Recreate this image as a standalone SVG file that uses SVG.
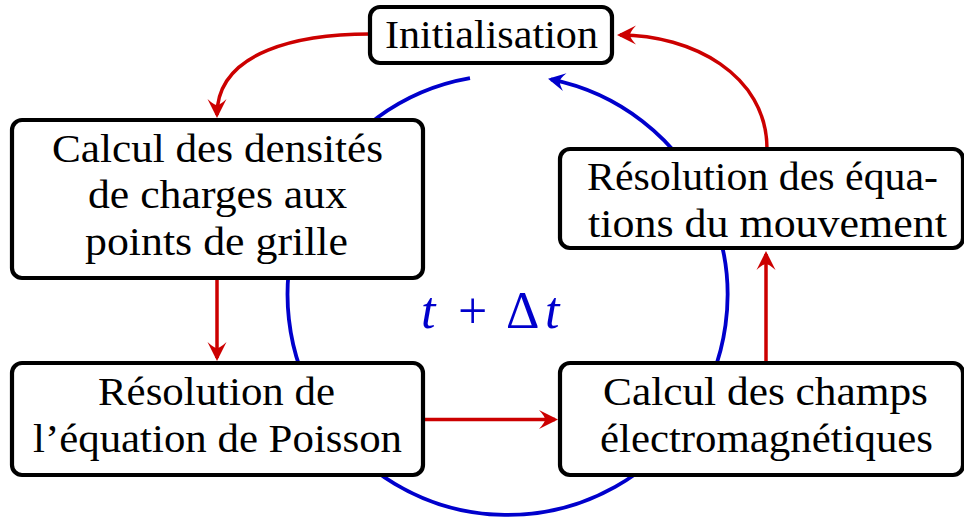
<svg xmlns="http://www.w3.org/2000/svg" width="964" height="519" viewBox="0 0 964 519">
<style>
.box{fill:#fff;stroke:#000;stroke-width:4.2}
.lbl{font-family:"Liberation Serif","DejaVu Serif",serif;font-size:39px;fill:#000;text-anchor:middle}
.red{fill:none;stroke:#CC0000;stroke-width:3.5}
.blue{fill:none;stroke:#0000CC;stroke-width:3.8}
.math{font-family:"Liberation Serif","DejaVu Serif",serif;font-size:52px;fill:#0000CC}
</style>
<defs>
<marker id="ahR" markerUnits="userSpaceOnUse" markerWidth="30" markerHeight="30" viewBox="-20 -15 30 30" refX="0" refY="0" orient="auto" overflow="visible">
<path d="M3,0 L-16,-9.5 Q-10,-3 -10,0 Q-10,3 -16,9.5 Z" fill="#CC0000"/>
</marker>
<marker id="ahB" markerUnits="userSpaceOnUse" markerWidth="30" markerHeight="30" viewBox="-20 -15 30 30" refX="0" refY="0" orient="auto" overflow="visible">
<path d="M3,0 L-14,-9 Q-9,-3 -9,0 Q-9,3 -14,9 Z" fill="#0000CC"/>
</marker>
</defs>
<rect width="964" height="519" fill="#fff"/>
<g id="connectors">
<path class="blue" d="M470,78.2 A220,220 0 1 0 551,79.3" marker-end="url(#ahB)"/>
<path class="red" d="M370,34 C302,34 217,50 217,115" marker-end="url(#ahR)"/>
<path class="red" d="M217,278 L217,358" marker-end="url(#ahR)"/>
<path class="red" d="M423,419.5 L555,419.5" marker-end="url(#ahR)"/>
<path class="red" d="M766,363 L766,254" marker-end="url(#ahR)"/>
<path class="red" d="M767,149 C767,74 691,35 620,35" marker-end="url(#ahR)"/>
</g>
<g id="init">
<rect class="box" x="370" y="7" width="242" height="56" rx="10"/>
<text class="lbl" x="491.5" y="48" textLength="213" lengthAdjust="spacingAndGlyphs">Initialisation</text>
</g>
<g id="densites">
<rect class="box" x="12" y="120" width="411" height="158" rx="10"/>
<text class="lbl" x="217.5" y="162" textLength="331" lengthAdjust="spacingAndGlyphs">Calcul des densités</text>
<text class="lbl" x="217.5" y="208" textLength="259" lengthAdjust="spacingAndGlyphs">de charges aux</text>
<text class="lbl" x="216.5" y="255" textLength="263" lengthAdjust="spacingAndGlyphs">points de grille</text>
</g>
<g id="mouvement">
<rect class="box" x="560" y="149" width="403" height="99" rx="10"/>
<text class="lbl" x="762.5" y="190" textLength="351" lengthAdjust="spacingAndGlyphs">Résolution des équa-</text>
<text class="lbl" x="767.5" y="237" textLength="359" lengthAdjust="spacingAndGlyphs">tions du mouvement</text>
</g>
<g id="poisson">
<rect class="box" x="12" y="363" width="411" height="112" rx="10"/>
<text class="lbl" x="216.5" y="405" textLength="237" lengthAdjust="spacingAndGlyphs">Résolution de</text>
<text class="lbl" x="217.5" y="452" textLength="369" lengthAdjust="spacingAndGlyphs">l’équation de Poisson</text>
</g>
<g id="champs">
<rect class="box" x="560" y="363" width="403" height="112" rx="10"/>
<text class="lbl" x="765.5" y="405" textLength="325" lengthAdjust="spacingAndGlyphs">Calcul des champs</text>
<text class="lbl" x="766.5" y="452" textLength="333" lengthAdjust="spacingAndGlyphs">électromagnétiques</text>
</g>
<g id="timestep">
<text class="math" y="328"><tspan x="421" font-style="italic">t</tspan><tspan x="458">+</tspan><tspan x="506">Δ</tspan><tspan x="545" font-style="italic">t</tspan></text>
</g>
</svg>
